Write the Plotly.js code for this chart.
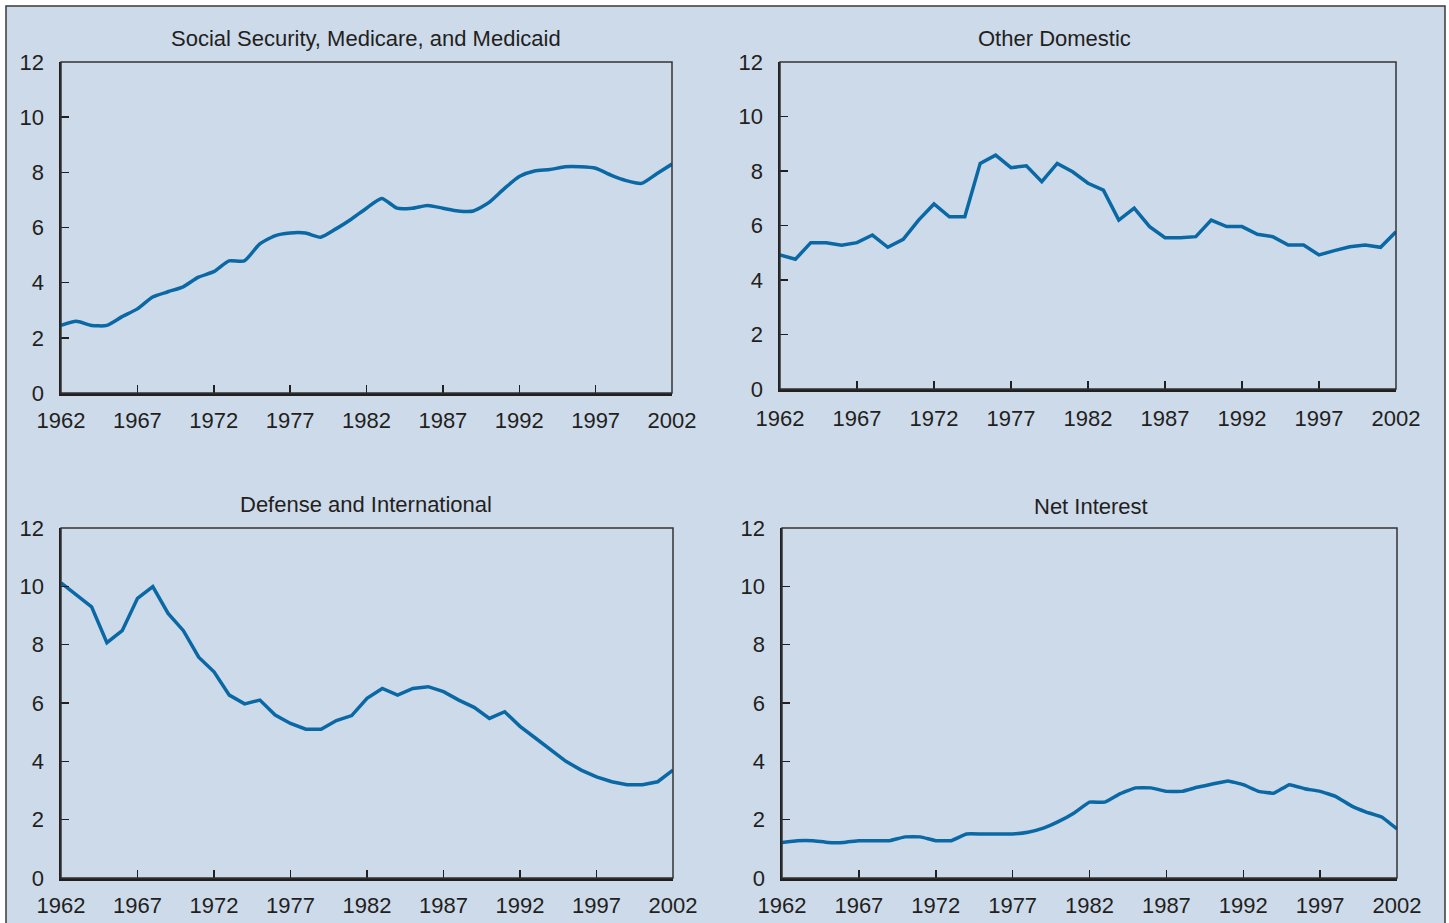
<!DOCTYPE html>
<html>
<head>
<meta charset="utf-8">
<script src="https://cdn.plot.ly/plotly-3.0.1.min.js"></script>
<style>
html,body{margin:0;padding:0;background:#ffffff;}
#chart{width:1449px;height:923px;}
</style>
</head>
<body>
<div id="chart"></div>
<script>
const years = [1962,1963,1964,1965,1966,1967,1968,1969,1970,1971,1972,1973,1974,1975,1976,1977,1978,1979,1980,1981,1982,1983,1984,1985,1986,1987,1988,1989,1990,1991,1992,1993,1994,1995,1996,1997,1998,1999,2000,2001,2002];

const socialSecurityMedicareMedicaid = [2.45,2.6,2.45,2.45,2.77,3.05,3.48,3.67,3.85,4.2,4.4,4.79,4.79,5.4,5.7,5.8,5.8,5.65,5.95,6.3,6.7,7.05,6.7,6.7,6.8,6.7,6.6,6.6,6.9,7.4,7.85,8.05,8.1,8.2,8.2,8.15,7.9,7.7,7.6,7.95,8.3];

const otherDomestic = [4.92,4.76,5.37,5.37,5.28,5.37,5.65,5.2,5.49,6.2,6.79,6.32,6.32,8.28,8.58,8.12,8.19,7.61,8.28,7.97,7.55,7.3,6.2,6.64,5.96,5.55,5.55,5.59,6.2,5.96,5.96,5.68,5.59,5.28,5.28,4.92,5.08,5.22,5.28,5.2,5.77];

const defenseInternational = [10.12,9.7,9.3,8.07,8.48,9.59,9.99,9.07,8.48,7.57,7.07,6.27,5.97,6.1,5.59,5.3,5.1,5.1,5.4,5.57,6.16,6.5,6.27,6.5,6.56,6.39,6.1,5.85,5.47,5.7,5.2,4.8,4.4,4.0,3.7,3.47,3.3,3.2,3.2,3.3,3.7];

const netInterest = [1.22,1.28,1.28,1.22,1.22,1.28,1.28,1.28,1.41,1.41,1.28,1.28,1.51,1.51,1.51,1.51,1.57,1.71,1.94,2.23,2.6,2.6,2.89,3.09,3.09,2.97,2.97,3.11,3.22,3.33,3.2,2.97,2.91,3.2,3.06,2.97,2.8,2.48,2.26,2.09,1.68];

const panelTitles = ["Social Security, Medicare, and Medicaid","Other Domestic","Defense and International","Net Interest"];
const xTickVals = [1962,1967,1972,1977,1982,1987,1992,1997,2002];
const xTickText = ["1962","1967","1972","1977","1982","1987","1992","1997","2002"];
const yTickVals = [0,2,4,6,8,10,12];

const series = [socialSecurityMedicareMedicaid, otherDomestic, defenseInternational, netInterest];

const W = 1449, H = 923;
// panel plot areas in pixels [x0, x1, yTop, yBottom]
const boxes = [
  [61, 672, 62, 393],
  [780, 1396, 62, 389],
  [61, 673, 528, 878],
  [782, 1397, 528, 878]
];
const titlePos = [[366, 38],[1054, 39],[366, 504],[1091, 506]];
const xStandoff = [6, 8, 6, 6];
const lineShapes = [
  {shape: "spline", smoothing: 0.6},
  {shape: "linear"},
  {shape: "linear"},
  {shape: "spline", smoothing: 0.3}
];

const lineColor = "#0a68a5";
const textColor = "#231f20";
const fontFam = "Liberation Sans, Arial, sans-serif";

const traces = [];
const layout = {
  width: W, height: H,
  margin: {l:0, r:0, t:0, b:0},
  paper_bgcolor: "#ffffff",
  plot_bgcolor: "rgba(0,0,0,0)",
  showlegend: false,
  font: {family: fontFam, color: textColor, size: 20},
  shapes: [
    {type:"rect", xref:"paper", yref:"paper", x0:6/W, x1:1445/W, y0:-0.05, y1:1-6/H,
     fillcolor:"#cddaea", line:{color:"#3a3a3a", width:1.5}, layer:"below"}
  ],
  annotations: []
};

for (let i = 0; i < 4; i++) {
  const ax = i === 0 ? "" : String(i + 1);
  const b = boxes[i];
  traces.push({
    x: years, y: series[i], type: "scatter", mode: "lines",
    xaxis: "x" + ax, yaxis: "y" + ax,
    line: Object.assign({color: lineColor, width: 3.5}, lineShapes[i]),
    hoverinfo: "skip"
  });
  layout["xaxis" + ax] = {
    domain: [b[0] / W, b[1] / W],
    anchor: "y" + ax,
    range: [1962, 2002],
    tickvals: xTickVals, ticktext: xTickText,
    ticks: "inside", ticklen: 8, tickwidth: 1.5, tickcolor: "#231f20",
    showline: true, linecolor: "#231f20", linewidth: 2.5,
    showgrid: false, zeroline: false,
    tickfont: {family: fontFam, size: 22, color: textColor},
    ticklabelstandoff: xStandoff[i],
    fixedrange: true
  };
  layout["yaxis" + ax] = {
    domain: [1 - b[3] / H, 1 - b[2] / H],
    anchor: "x" + ax,
    range: [0, 12],
    tickvals: yTickVals,
    ticks: "inside", ticklen: 8, tickwidth: 1.5, tickcolor: "#231f20",
    showline: true, linecolor: "#231f20", linewidth: 2.5,
    showgrid: false, zeroline: false,
    tickfont: {family: fontFam, size: 22, color: textColor},
    ticklabelstandoff: 10,
    fixedrange: true
  };
  layout.shapes.push({
    type: "rect", xref: "x" + ax + " domain", yref: "y" + ax + " domain",
    x0: 0, x1: 1, y0: 0, y1: 1, line: {color: "#333333", width: 1.5}, layer: "above"
  });
  layout.annotations.push({
    text: panelTitles[i], xref: "paper", yref: "paper",
    x: titlePos[i][0] / W, y: 1 - titlePos[i][1] / H,
    xanchor: "center", yanchor: "middle", showarrow: false,
    font: {family: fontFam, size: 22, color: textColor}
  });
}

Plotly.newPlot("chart", traces, layout, {displayModeBar: false, staticPlot: true});
</script>
</body>
</html>
